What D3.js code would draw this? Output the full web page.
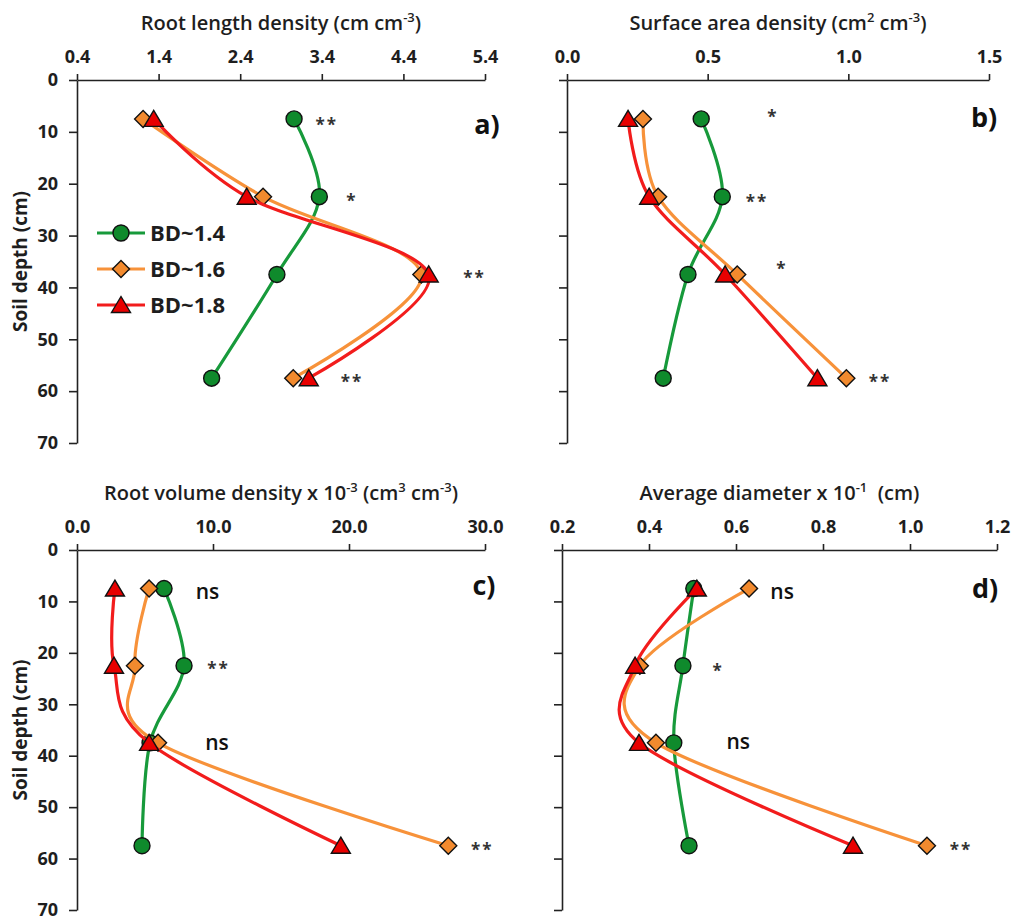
<!DOCTYPE html>
<html>
<head>
<meta charset="utf-8">
<script src="https://cdn.jsdelivr.net/npm/d3@7"></script>
<style>
    body { margin: 0; background: #fff; }
    svg { display: block; font-family: "Open Sans", sans-serif; }
</style>
</head>
<body>
<svg id="chart" width="1012" height="918"></svg>
<script>
// ----- data -----

let depths = [7.5, 22.5, 37.5, 57.5];
let depthTicks = [0, 10, 20, 30, 40, 50, 60, 70];
let seriesNames = ["BD~1.4", "BD~1.6", "BD~1.8"];

// a) root length density (cm cm-3)
let rldTicks = [0.4, 1.4, 2.4, 3.4, 4.4, 5.4];
let rld14 = [3.06, 3.37, 2.85, 2.05];
let rld16 = [1.21, 2.68, 4.62, 3.05];
let rld18 = [1.34, 2.48, 4.71, 3.24];
let rldSig = ["**", "*", "**", "**"];
let rldSigX = [3.46, 3.77, 5.27, 3.77];
let rldSigD = [7.7, 22.3, 37.2, 57.2];

// b) surface area density (cm2 cm-3)
let sadTicks = [0.0, 0.5, 1.0, 1.5];
let sad14 = [0.477, 0.552, 0.43, 0.342];
let sad16 = [0.27, 0.324, 0.605, 0.993];
let sad18 = [0.217, 0.292, 0.562, 0.89];
let sadSig = ["*", "**", "*", "**"];
let sadSigX = [0.732, 0.675, 0.764, 1.113];
let sadSigD = [6.2, 22.5, 35.5, 57.2];

// c) root volume density x 10-3 (cm3 cm-3)
let rvdTicks = [0, 10, 20, 30];
let rvd14 = [6.4, 7.87, 5.37, 4.78];
let rvd16 = [5.3, 4.26, 5.96, 27.3];
let rvd18 = [2.79, 2.72, 5.3, 19.4];
let rvdSig = ["ns", "**", "ns", "**"];
let rvdSigX = [9.6, 10.4, 10.3, 29.8];
let rvdSigD = [8.2, 22.2, 37.5, 57.4];

// d) average diameter x 10-1 (cm)
let adTicks = [0.2, 0.4, 0.6, 0.8, 1.0, 1.2];
let ad14 = [0.503, 0.478, 0.457, 0.492];
let ad16 = [0.63, 0.379, 0.416, 1.039];
let ad18 = [0.51, 0.368, 0.377, 0.869];
let adSig = ["ns", "*", "ns", "**"];
let adSigX = [0.706, 0.559, 0.605, 1.117];
let adSigD = [8.2, 22.6, 37.3, 57.4];

// ----- styles -----

let lineColors = ["#179a3b", "#f7923a", "#f21c1c"];
let markColors = ["#0f8a2c", "#f28a2e", "#e80000"];
let shapes = ["circle", "diamond", "triangle"];

let svg = d3.select("#chart");

function markerPath(shape) {
    if (shape == "circle") {
        return "M-8,0A8,8 0 1,0 8,0A8,8 0 1,0 -8,0Z";
    } else if (shape == "diamond") {
        return "M0,-8.5L8.5,0L0,8.5L-8.5,0Z";
    }
    return "M0,-8.5L9.5,7.5L-9.5,7.5Z";
}

function addTitle(g, x, y, parts) {
    let t = g.append("text")
        .attr("x", x)
        .attr("y", y)
        .attr("text-anchor", "middle")
        .attr("font-size", 20)
        .attr("font-weight", 600)
        .attr("fill", "#1e1e1e")
        .style("white-space", "pre");
    let raised = false;
    parts.forEach(p => {
        if (p.sup) {
            t.append("tspan").attr("dy", raised ? 0 : -8).attr("font-size", 13).text(p.sup);
            raised = true;
        } else {
            t.append("tspan").attr("dy", raised ? 8 : 0).text(p.t);
            raised = false;
        }
    });
}

function drawPanel(p) {
    let g = svg.append("g");

    let x = d3.scaleLinear().domain(p.xDomain).range([p.left, p.right]);
    let y = d3.scaleLinear().domain([0, 70]).range([p.top, p.bottom]);

    let axisX = d3.axisTop(x)
        .tickValues(p.xTicks)
        .tickFormat(d3.format(".1f"))
        .tickSize(6)
        .tickPadding(11)
        .tickSizeOuter(0);

    let axisY = d3.axisLeft(y)
        .tickValues(depthTicks)
        .tickFormat(p.yLabels ? d3.format("d") : "")
        .tickSize(8)
        .tickPadding(11)
        .tickSizeOuter(0);

    let gx = g.append("g").attr("transform", `translate(0, ${p.top})`).call(axisX);
    let gy = g.append("g").attr("transform", `translate(${p.left}, 0)`).call(axisY);

    [gx, gy].forEach(a => {
        a.selectAll("path, line").attr("stroke", "#222").attr("stroke-width", 1.6);
        a.selectAll("text")
            .attr("font-family", "Open Sans")
            .attr("font-size", 18)
            .attr("font-weight", 700)
            .attr("fill", "#1e1e1e");
    });

    let line = d3.line()
        .x(d => x(d.v))
        .y(d => y(d.depth))
        .curve(d3.curveCardinal.tension(0));

    p.series.forEach((vals, i) => {
        let pts = vals.map((v, j) => ({ v: v, depth: depths[j] }));
        g.append("path")
            .datum(pts)
            .attr("fill", "none")
            .attr("stroke", lineColors[i])
            .attr("stroke-width", 3.2)
            .attr("d", line);
        g.selectAll(null)
            .data(pts)
            .enter()
            .append("path")
            .attr("transform", d => `translate(${x(d.v)}, ${y(d.depth)})`)
            .attr("d", markerPath(shapes[i]))
            .attr("fill", markColors[i])
            .attr("stroke", "#111")
            .attr("stroke-width", 1.4);
    });

    // significance marks
    p.sig.forEach((s, j) => {
        let isStar = s.indexOf("*") >= 0;
        g.append("text")
            .attr("x", x(p.sigX[j]))
            .attr("y", y(p.sigD[j]))
            .attr("dy", isStar ? 11 : 7)
            .attr("text-anchor", "middle")
            .attr("font-size", isStar ? 17 : 21)
            .attr("font-weight", isStar ? 700 : 600)
            .attr("fill", isStar ? "#333" : "#111")
            .attr("letter-spacing", isStar ? 2 : 0)
            .text(s);
    });

    g.append("text")
        .attr("x", p.labelX)
        .attr("y", p.labelY)
        .attr("text-anchor", "middle")
        .attr("font-size", 27)
        .attr("font-weight", 700)
        .attr("fill", "#111")
        .text(p.label);

    addTitle(g, (p.left + p.right) / 2, p.top - 50, p.title);

    if (p.yLabels) {
        g.append("text")
            .attr("transform", `translate(27, ${(p.top + p.bottom) / 2}) rotate(-90)`)
            .attr("text-anchor", "middle")
            .attr("font-size", 19)
            .attr("font-weight", 700)
            .attr("fill", "#1e1e1e")
            .text("Soil depth (cm)");
    }
    return g;
}

let gA = drawPanel({
    left: 77, right: 485, top: 80, bottom: 443,
    xDomain: [0.4, 5.4], xTicks: rldTicks, yLabels: true,
    series: [rld14, rld16, rld18],
    sig: rldSig, sigX: rldSigX, sigD: rldSigD,
    label: "a)", labelX: 487, labelY: 134,
    title: [{ t: "Root length density (cm cm" }, { sup: "-3" }, { t: ")" }]
});

drawPanel({
    left: 567, right: 989, top: 80, bottom: 443,
    xDomain: [0, 1.5], xTicks: sadTicks, yLabels: false,
    series: [sad14, sad16, sad18],
    sig: sadSig, sigX: sadSigX, sigD: sadSigD,
    label: "b)", labelX: 984, labelY: 127,
    title: [{ t: "Surface area density (cm" }, { sup: "2" }, { t: " cm" }, { sup: "-3" }, { t: ")" }]
});

drawPanel({
    left: 77, right: 485, top: 550, bottom: 910,
    xDomain: [0, 30], xTicks: rvdTicks, yLabels: true,
    series: [rvd14, rvd16, rvd18],
    sig: rvdSig, sigX: rvdSigX, sigD: rvdSigD,
    label: "c)", labelX: 484, labelY: 595,
    title: [{ t: "Root volume density x 10" }, { sup: "-3" }, { t: " (cm" }, { sup: "3" }, { t: " cm" }, { sup: "-3" }, { t: ")" }]
});

drawPanel({
    left: 562, right: 997, top: 550, bottom: 910,
    xDomain: [0.2, 1.2], xTicks: adTicks, yLabels: false,
    series: [ad14, ad16, ad18],
    sig: adSig, sigX: adSigX, sigD: adSigD,
    label: "d)", labelX: 985, labelY: 598,
    title: [{ t: "Average diameter x 10" }, { sup: "-1" }, { t: "  (cm)" }]
});

// ----- legend in panel a -----

let legend = gA.append("g");
let legendY = [233, 269, 305];
seriesNames.forEach((name, i) => {
    legend.append("line")
        .attr("x1", 97).attr("x2", 145)
        .attr("y1", legendY[i]).attr("y2", legendY[i])
        .attr("stroke", lineColors[i])
        .attr("stroke-width", 3.2);
    legend.append("path")
        .attr("transform", `translate(121, ${legendY[i]})`)
        .attr("d", markerPath(shapes[i]))
        .attr("fill", markColors[i])
        .attr("stroke", "#111")
        .attr("stroke-width", 1.4);
    legend.append("text")
        .attr("x", 150)
        .attr("y", legendY[i])
        .attr("dy", 8)
        .attr("font-size", 22)
        .attr("font-weight", 700)
        .attr("fill", "#1e1e1e")
        .text(name);
});
</script>
</body>
</html>
